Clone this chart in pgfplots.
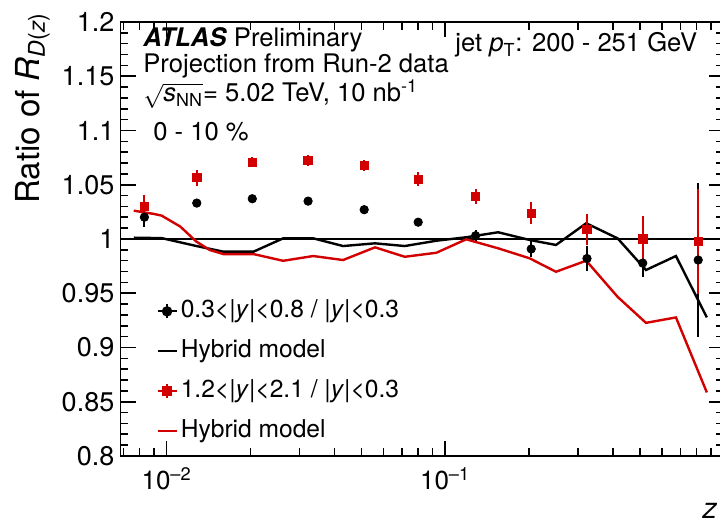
\documentclass[border=0pt]{standalone}
\usepackage{pgfplots}
\pgfplotsset{compat=1.18}
\usepackage{fontspec}
\setmainfont{TeX Gyre Heros}
\definecolor{rred}{RGB}{210,0,0}
\begin{document}
\begin{tikzpicture}
\path[use as bounding box] (0,0) rectangle (360pt,261.5pt);
\begin{axis}[
  at={(60.35pt,33.5pt)}, anchor=south west,
  width=301.5pt, height=217pt, scale only axis,
  xmode=log, xmin=0.00684, xmax=1, ymin=0.8, ymax=1.2,
  xtick={0.01,0.1},
  xticklabels={10\textsuperscript{\textendash2},10\textsuperscript{\textendash1}},
  minor xtick={0.007,0.008,0.009,0.02,0.03,0.04,0.05,0.06,0.07,0.08,0.09,0.2,0.3,0.4,0.5,0.6,0.7,0.8,0.9},
  ytick={0.8,0.85,0.9,0.95,1,1.05,1.1,1.15,1.2},
  yticklabels={0.8,0.85,0.9,0.95,1,1.05,1.1,1.15,1.2},
  minor ytick={0.81,0.82,0.83,0.84,0.86,0.87,0.88,0.89,0.91,0.92,0.93,0.94,0.96,0.97,0.98,0.99,1.01,1.02,1.03,1.04,1.06,1.07,1.08,1.09,1.11,1.12,1.13,1.14,1.16,1.17,1.18,1.19},
  tick align=inside, major tick length=7.5pt, minor tick length=3.8pt,
  axis line style={line width=0.8pt},
  every tick/.style={black, line width=0.8pt},
  yticklabel style={font=\fontsize{13.5}{16}\selectfont, inner sep=0pt, xshift=-3pt},
  xticklabel style={font=\fontsize{13}{15}\selectfont, inner sep=0pt, yshift=-5.5pt},
  clip=false,
  legend cell align=left,
  legend style={at={(rel axis cs:0.0585,0.3618)}, anchor=north west, draw=none, fill=none,
    inner sep=0pt, font=\fontsize{12.3}{14}\selectfont, row sep=7.95pt, column sep=1.5pt,
    nodes={inner sep=0pt, text height=9pt, text depth=3pt}},
]
% reference line at 1
\addplot[black, line width=0.8pt, forget plot] coordinates {(0.00684,1) (1,1)};
% Hybrid model, black
\addplot[black, line width=1.2pt, forget plot] table[x=x,y=y] {
x y
0.00762 1.0012
0.0096 1.0008
0.0128 0.9935
0.0160 0.9883
0.0205 0.9883
0.0262 1.0006
0.0336 1.0006
0.0430 0.9935
0.0560 0.9960
0.0716 0.9935
0.0930 0.9984
0.1190 1.0016
0.1550 1.0062
0.2010 0.9991
0.2500 0.9945
0.3210 1.0145
0.4160 1.0006
0.5260 0.9714
0.6740 0.9843
0.8700 0.9277
};
% Hybrid model, red
\addplot[rred, line width=1.2pt, forget plot] table[x=x,y=y] {
x y
0.00762 1.0261
0.0090 1.0231
0.0096 1.0215
0.0112 1.0114
0.0128 0.9975
0.0143 0.9898
0.0160 0.9861
0.0205 0.9861
0.0262 0.9799
0.0336 0.9843
0.0430 0.9806
0.0560 0.9923
0.0716 0.9836
0.0930 0.9873
0.1190 0.9997
0.1550 0.9914
0.2010 0.9822
0.2500 0.9698
0.3210 0.9800
0.4160 0.9467
0.5260 0.9227
0.6740 0.9277
0.8700 0.8586
};
% data, 0.3<|y|<0.8
\addplot[black, only marks, mark=*, mark size=2.1pt, forget plot,
  error bars/.cd, y dir=both, y explicit, error mark=none,
  error bar style={line width=1pt, black}] table[x=x,y=y,y error=e] {
x y e
0.00832 1.0201 0.009
0.01283 1.0331 0.003
0.0203 1.0371 0.003
0.0322 1.0349 0.003
0.0512 1.0270 0.003
0.0800 1.0155 0.003
0.1286 1.0030 0.005
0.2037 0.9908 0.007
0.3230 0.9820 0.0115
0.5120 0.9778 0.0125
0.8100 0.9806 0.071
};
% data, 1.2<|y|<2.1
\addplot[rred, only marks, mark=square*, mark size=2.1pt, forget plot,
  error bars/.cd, y dir=both, y explicit, error mark=none,
  error bar style={line width=1pt, rred}] table[x=x,y=y,y error=e] {
x y e
0.00832 1.0303 0.0106
0.01283 1.0565 0.0074
0.0203 1.0707 0.0046
0.0322 1.0725 0.005
0.0512 1.0679 0.005
0.0800 1.0550 0.0066
0.1286 1.0393 0.007
0.2037 1.0237 0.0103
0.3230 1.0090 0.0143
0.5120 1.0000 0.021
0.8100 0.9980 0.0485
};
% legend
\addlegendimage{black, legend image code/.code={
    \draw[black, line width=1pt] (4.75pt,-3.5pt)--(4.75pt,3.5pt);
    \draw[black, line width=1pt, mark=*, mark size=2.1pt, mark repeat=2, mark phase=2] plot coordinates {(0pt,0pt) (4.75pt,0pt) (9.5pt,0pt)};}}
\addlegendentry{0.3<|\textit{y}|<0.8 / |\textit{y}|<0.3}
\addlegendimage{black, legend image code/.code={\draw[black, line width=1.2pt] (0pt,0pt)--(9.5pt,0pt);}}
\addlegendentry{Hybrid model}
\addlegendimage{rred, legend image code/.code={
    \draw[rred, line width=1pt] (4.75pt,-3.5pt)--(4.75pt,3.5pt);
    \draw[rred, line width=1pt, mark=square*, mark size=2.1pt, mark repeat=2, mark phase=2] plot coordinates {(0pt,0pt) (4.75pt,0pt) (9.5pt,0pt)};}}
\addlegendentry{1.2<|\textit{y}|<2.1 / |\textit{y}|<0.3}
\addlegendimage{rred, legend image code/.code={\draw[rred, line width=1.2pt] (0pt,0pt)--(9.5pt,0pt);}}
\addlegendentry{Hybrid model}
% annotations
\node[anchor=base west, font=\fontsize{12.8}{15}\selectfont, inner sep=0pt] at (rel axis cs:0.037,0.9424) {\textbf{\textit{ATLAS}} Preliminary};
\node[anchor=base west, font=\fontsize{12.8}{15}\selectfont, inner sep=0pt] at (rel axis cs:0.037,0.8825) {Projection from Run-2 data};
\node[anchor=base west, font=\fontsize{12.8}{15}\selectfont, inner sep=0pt] at (rel axis cs:0.037,0.8164) {$\sqrt{\mbox{\textit{s}\textsubscript{NN}}}$= 5.02 TeV, 10 nb\textsuperscript{-1}};
\node[anchor=base west, font=\fontsize{12.8}{15}\selectfont, inner sep=0pt] at (rel axis cs:0.0536,0.728) {0 - 10 \%};
\node[anchor=base west, font=\fontsize{12.8}{15}\selectfont, inner sep=0pt] at (rel axis cs:0.5544,0.9320) {jet \textit{p}\textsubscript{T}: 200 - 251 GeV};
% axis titles
\node[rotate=90, anchor=base east, font=\fontsize{16.5}{19}\selectfont, inner sep=0pt] at (rel axis cs:-0.1343,1.023) {Ratio of \textit{R}\textsubscript{\textit{D}(\textit{z})}};
\node[anchor=base east, font=\fontsize{14.5}{17}\selectfont, inner sep=0pt] at (rel axis cs:0.99,-0.145) {\textit{z}};
\end{axis}
\end{tikzpicture}
\end{document}
